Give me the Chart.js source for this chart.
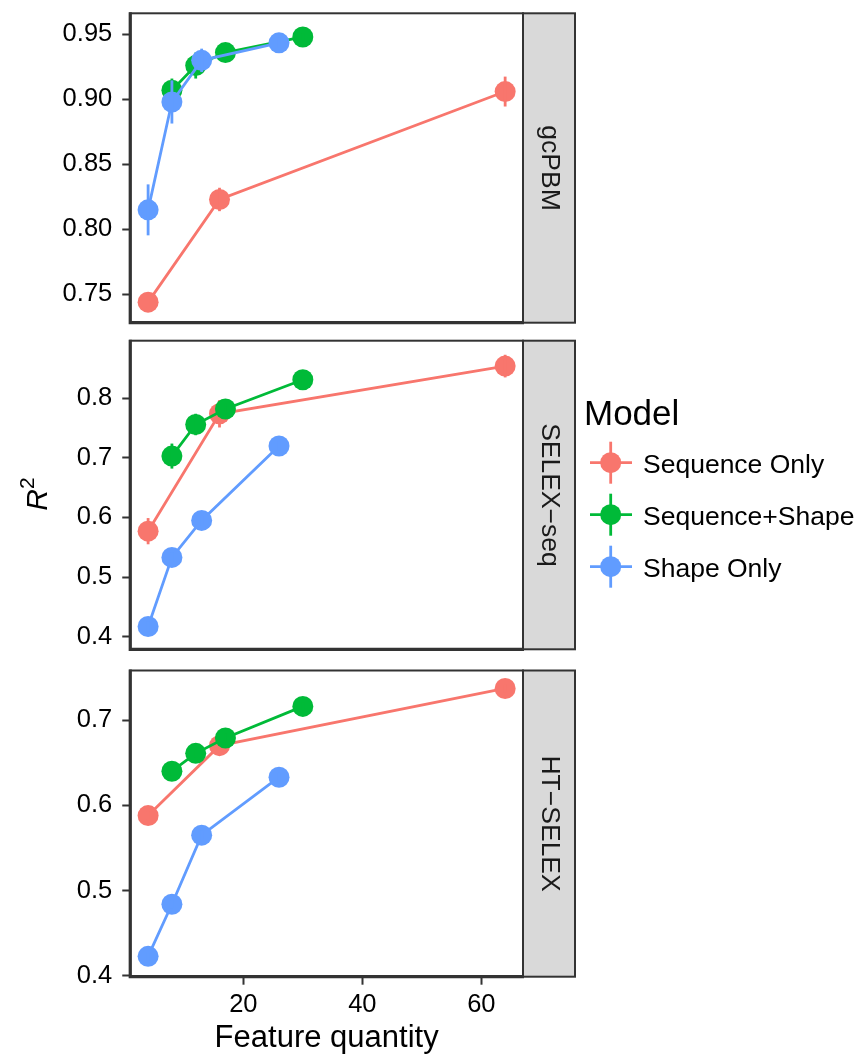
<!DOCTYPE html>
<html>
<head>
<meta charset="utf-8">
<script src="https://cdn.jsdelivr.net/npm/chart.js@4.4.1/dist/chart.umd.min.js"></script>
<style>
    html, body { margin: 0; padding: 0; background: #fff; }
    body { width: 862px; height: 1059px; position: relative; overflow: hidden; font-family: "Liberation Sans", Arial, sans-serif; }
    canvas { position: absolute; left: 0; }
    #yTitle { position: absolute; left: 34px; top: 494px; transform: translate(-50%, -50%) rotate(-90deg); font-size: 30px; line-height: 1; white-space: nowrap; color: #000; }
    #yTitle sup { font-size: 21px; vertical-align: 13px; }
    #legend { position: absolute; left: 0; top: 0; pointer-events: none; }
</style>
</head>
<body>
<canvas id="chartGcpbm" width="600" height="335" style="top:0px"></canvas>
<canvas id="chartSelex" width="600" height="330" style="top:330px"></canvas>
<canvas id="chartHtSelex" width="600" height="399" style="top:660px"></canvas>
<div id="yTitle"><i>R</i><sup>2</sup></div>
<svg id="legend" width="862" height="1059"></svg>

<script>
// categories
const models = ['Sequence Only', 'Sequence+Shape', 'Shape Only'];
const modelColors = ['#F8766D', '#00BA38', '#619CFF'];
const panelNames = ['gcPBM', 'SELEX\u2212seq', 'HT\u2212SELEX'];

// feature quantity per model
const seqOnlyX = [4, 16, 64];
const seqShapeX = [8, 12, 17, 30];
const shapeOnlyX = [4, 8, 13, 26];

// gcPBM
const gcpbmSeqOnly = [0.744, 0.823, 0.906];
const gcpbmSeqOnlyErr = [0.004, 0.009, 0.0115];
const gcpbmSeqShape = [0.907, 0.926, 0.936, 0.948];
const gcpbmSeqShapeErr = [0.009, 0.010, 0.004, 0.003];
const gcpbmShapeOnly = [0.815, 0.898, 0.930, 0.9435];
const gcpbmShapeOnlyErr = [0.0196, 0.0166, 0.009, 0.004];

// SELEX-seq
const selexSeqOnly = [0.577, 0.774, 0.854];
const selexSeqOnlyErr = [0.022, 0.023, 0.019];
const selexSeqShape = [0.703, 0.756, 0.782, 0.831];
const selexSeqShapeErr = [0.021, 0.018, 0.010, 0.008];
const selexShapeOnly = [0.417, 0.533, 0.595, 0.720];
const selexShapeOnlyErr = [0.008, 0.008, 0.008, 0.008];

// HT-SELEX
const htSeqOnly = [0.588, 0.670, 0.737];
const htSeqOnlyErr = [0.005, 0.005, 0.005];
const htSeqShape = [0.640, 0.661, 0.679, 0.716];
const htSeqShapeErr = [0.005, 0.005, 0.005, 0.005];
const htShapeOnly = [0.423, 0.484, 0.565, 0.633];
const htShapeOnlyErr = [0.005, 0.005, 0.005, 0.005];

// tick labels
const xTicks = [20, 40, 60];
const gcpbmTicks = [0.75, 0.80, 0.85, 0.90, 0.95];
const selexTicks = [0.4, 0.5, 0.6, 0.7, 0.8];
const htTicks = [0.4, 0.5, 0.6, 0.7];

// axis limits
const xMin = 1, xMax = 67;
const gcpbmRange = [0.7282, 0.9662];
const selexRange = [0.3788, 0.8966];
const htRange = [0.3991, 0.7581];

// layout
const plotLeft = 130.25;
const plotRight = 523;
const stripWidth = 52;
const tickFont = {family: '"Liberation Sans", Arial, sans-serif', size: 25.5};

function toPoints(xs, ys) {
    return xs.map((x, i) => ({x: x, y: ys[i]}));
}

function buildDatasets(seqOnly, seqOnlyErr, seqShape, seqShapeErr, shapeOnly, shapeOnlyErr) {
    let rows = [[seqOnlyX, seqOnly, seqOnlyErr], [seqShapeX, seqShape, seqShapeErr], [shapeOnlyX, shapeOnly, shapeOnlyErr]];
    return rows.map((r, i) => ({
        label: models[i],
        data: toPoints(r[0], r[1]),
        err: r[2],
        borderColor: modelColors[i],
        backgroundColor: modelColors[i],
        pointBackgroundColor: modelColors[i],
        pointBorderWidth: 0,
        pointRadius: 10.5,
        pointHoverRadius: 10.5,
        borderWidth: 2.8,
        tension: 0,
        order: 3 - i
    }));
}

const errorBarPlugin = {
    id: 'errorBars',
    afterDatasetDraw(chart, args) {
        const ds = chart.data.datasets[args.index];
        const xs = chart.scales.x, ys = chart.scales.y, ctx = chart.ctx;
        ctx.save();
        ctx.strokeStyle = ds.borderColor;
        ctx.lineWidth = 2.8;
        ds.data.forEach((p, i) => {
            let px = xs.getPixelForValue(p.x);
            ctx.beginPath();
            ctx.moveTo(px, ys.getPixelForValue(p.y - ds.err[i]));
            ctx.lineTo(px, ys.getPixelForValue(p.y + ds.err[i]));
            ctx.stroke();
        });
        ctx.restore();
    }
};

const framePlugin = {
    id: 'frame',
    afterDraw(chart) {
        const a = chart.chartArea, ctx = chart.ctx;
        const label = chart.options.plugins.frame.strip;
        ctx.save();
        // strip
        ctx.fillStyle = '#D9D9D9';
        ctx.fillRect(a.right, a.top, stripWidth, a.bottom - a.top);
        ctx.strokeStyle = '#333333';
        ctx.lineWidth = 2;
        ctx.strokeRect(a.right, a.top, stripWidth, a.bottom - a.top);
        ctx.fillStyle = '#1a1a1a';
        ctx.font = '26.5px "Liberation Sans", Arial, sans-serif';
        ctx.textAlign = 'center';
        ctx.textBaseline = 'middle';
        ctx.translate(a.right + stripWidth / 2, (a.top + a.bottom) / 2);
        ctx.rotate(Math.PI / 2);
        ctx.fillText(label, 0, 0);
        ctx.setTransform(1, 0, 0, 1, 0, 0);
        // panel border
        ctx.lineWidth = 2;
        ctx.strokeRect(a.left, a.top, a.right - a.left, a.bottom - a.top);
        ctx.lineWidth = 3.2;
        ctx.beginPath();
        ctx.moveTo(a.left, a.top - 1);
        ctx.lineTo(a.left, a.bottom);
        ctx.lineTo(a.right + 1, a.bottom);
        ctx.stroke();
        ctx.restore();
    }
};

function makePanel(canvasId, stripLabel, datasets, range, yTicks, decimals, padTop, padBottom, showX) {
    let canvas = document.getElementById(canvasId);
    let xAxisHeight = showX ? 82.3 : 0;
    return new Chart(canvas, {
        type: 'line',
        data: {datasets: datasets},
        plugins: [errorBarPlugin, framePlugin],
        options: {
            responsive: false,
            animation: false,
            events: [],
            layout: {padding: {left: 0, right: canvas.width - plotRight, top: padTop, bottom: padBottom}},
            plugins: {
                legend: {display: false},
                tooltip: {enabled: false},
                frame: {strip: stripLabel}
            },
            scales: {
                x: {
                    type: 'linear',
                    min: xMin,
                    max: xMax,
                    display: showX,
                    afterBuildTicks: s => { s.ticks = xTicks.map(v => ({value: v})); },
                    afterFit: s => { s.height = xAxisHeight; s.paddingLeft = 0; s.paddingRight = 0; },
                    grid: {drawOnChartArea: false, drawTicks: true, tickLength: 8, tickWidth: 2, tickColor: '#333333'},
                    border: {display: false},
                    ticks: {padding: 5, color: '#000', font: tickFont, maxRotation: 0, autoSkip: false},
                    title: {
                        display: true,
                        text: 'Feature quantity',
                        color: '#000',
                        font: {family: '"Liberation Sans", Arial, sans-serif', size: 31, lineHeight: 1.2},
                        padding: {top: 0, bottom: 2}
                    }
                },
                y: {
                    type: 'linear',
                    min: range[0],
                    max: range[1],
                    afterBuildTicks: s => { s.ticks = yTicks.map(v => ({value: v})); },
                    afterFit: s => { s.width = plotLeft; s.paddingTop = 0; s.paddingBottom = 0; },
                    grid: {drawOnChartArea: false, drawTicks: true, tickLength: 8, tickWidth: 2, tickColor: '#333333'},
                    border: {display: false},
                    ticks: {
                        padding: 10,
                        color: '#000',
                        font: tickFont,
                        autoSkip: false,
                        callback: v => v.toFixed(decimals)
                    }
                }
            }
        }
    });
}

makePanel('chartGcpbm', panelNames[0],
    buildDatasets(gcpbmSeqOnly, gcpbmSeqOnlyErr, gcpbmSeqShape, gcpbmSeqShapeErr, gcpbmShapeOnly, gcpbmShapeOnlyErr),
    gcpbmRange, gcpbmTicks, 2, 13.3, 12.3, false);
makePanel('chartSelex', panelNames[1],
    buildDatasets(selexSeqOnly, selexSeqOnlyErr, selexSeqShape, selexSeqShapeErr, selexShapeOnly, selexShapeOnlyErr),
    selexRange, selexTicks, 1, 10.7, 10.7, false);
makePanel('chartHtSelex', panelNames[2],
    buildDatasets(htSeqOnly, htSeqOnlyErr, htSeqShape, htSeqShapeErr, htShapeOnly, htShapeOnlyErr),
    htRange, htTicks, 1, 8.3, 0, true);

// legend
let svg = document.getElementById('legend');
let ns = 'http://www.w3.org/2000/svg';
function svgEl(tag, attrs, text) {
    let el = document.createElementNS(ns, tag);
    Object.keys(attrs).forEach(k => el.setAttribute(k, attrs[k]));
    if (text) el.textContent = text;
    svg.appendChild(el);
    return el;
}
svgEl('text', {x: 584, y: 425, 'font-family': '"Liberation Sans", Arial, sans-serif', 'font-size': 35, fill: '#000'}, 'Model');
models.forEach((m, i) => {
    let cy = 462.7 + i * 52;
    svgEl('line', {x1: 590, x2: 632, y1: cy, y2: cy, stroke: modelColors[i], 'stroke-width': 2.8});
    svgEl('line', {x1: 610.7, x2: 610.7, y1: cy - 21, y2: cy + 21, stroke: modelColors[i], 'stroke-width': 2.8});
    svgEl('circle', {cx: 610.7, cy: cy, r: 10.5, fill: modelColors[i]});
    svgEl('text', {x: 643, y: cy + 10, 'font-family': '"Liberation Sans", Arial, sans-serif', 'font-size': 26.5, fill: '#000'}, m);
});
</script>
</body>
</html>
